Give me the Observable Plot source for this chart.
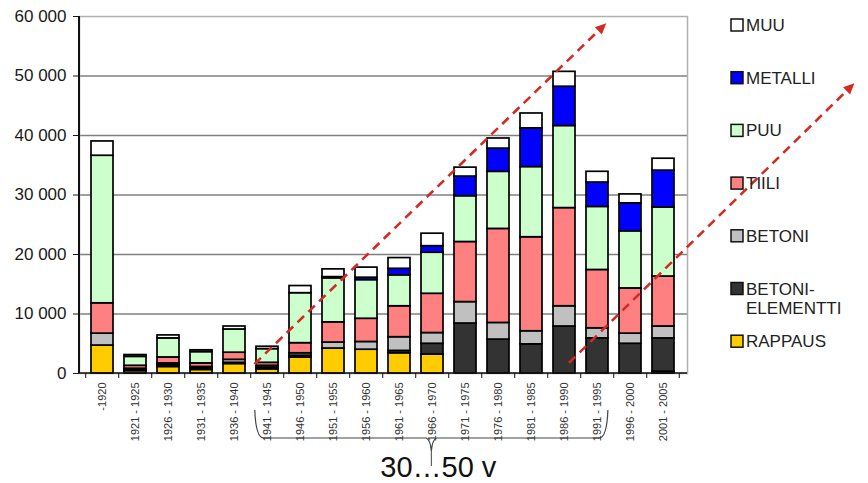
<!DOCTYPE html>
<html>
<head>
<meta charset="utf-8">
<script src="https://cdn.jsdelivr.net/npm/d3@7"></script>
<script src="https://cdn.jsdelivr.net/npm/@observablehq/plot@0.6"></script>
<style>
  body { margin: 0; background: #fff; }
  #chart svg { display: block; }
</style>
</head>
<body>
<div id="chart"></div>
<script>
// Construction periods (x categories)
const periods = [
  "-1920", "1921 - 1925", "1926 - 1930", "1931 - 1935", "1936 - 1940",
  "1941 - 1945", "1946 - 1950", "1951 - 1955", "1956 - 1960", "1961 - 1965",
  "1966 - 1970", "1971 - 1975", "1976 - 1980", "1981 - 1985", "1986 - 1990",
  "1991 - 1995", "1996 - 2000", "2001 - 2005"
];

// Facade materials, stacked bottom to top
const series = ["RAPPAUS", "BETONI-ELEMENTTI", "BETONI", "TIILI", "PUU", "METALLI", "MUU"];
const seriesColors = ["#ffcc00", "#333333", "#c0c0c0", "#ff8080", "#ccffcc", "#0000ff", "#ffffff"];

// Values per period for each material
const rappaus   = [4700,  400, 1100,  600, 1600,  700, 2700, 4200, 4000, 3400, 3200,     0,     0,     0,     0,     0,    0,   300];
const elementti = [   0,  200,  300,  300,  200,  300,  300,    0,    0,  400, 1800,  8400,  5700,  4900,  7900,  5900, 5000,  5600];
const betoni    = [2000,  200,  300,  200,  500,  300,  400, 1000, 1300, 2300, 1800,  3600,  2800,  2200,  3400,  1700, 1700,  2000];
const tiili     = [5100,  500, 1000,  600, 1200,  500, 1700, 3400, 3900, 5200, 6600, 10100, 15800, 15800, 16500,  9800, 7600,  8400];
const puu       = [24800, 1500, 3200, 1900, 3900, 2300, 8400, 7400, 6500, 5200, 6900,  7700,  9600, 11800, 13800, 10600, 9600, 11600];
const metalli   = [   0,    0,    0,    0,    0,    0,    0,  200,  400, 1100, 1100,  3300,  3900,  6500,  6600,  4100, 4700,  6200];
const muu       = [2400,  300,  500,  300,  500,  400, 1200, 1300, 1700, 1800, 2100,  1500,  1700,  2500,  2500,  1800, 1500,  2000];

// Y axis ticks
const yTicks = [0, 10000, 20000, 30000, 40000, 50000, 60000];

// Legend entries, top to bottom
const legendOrder = ["MUU", "METALLI", "PUU", "TIILI", "BETONI", "BETONI-ELEMENTTI", "RAPPAUS"];

// Trend arrows: [period, offset in bands from its centre, value]
const trendArrows = [
  {from: ["1941 - 1945", -0.38, 1500], to: ["1991 - 1995", 0.28, 58800]},
  {from: ["1986 - 1990", 0.15, 1700],  to: ["2001 - 2005", 5.8, 48700]}
];
// Brace below the period labels
const brace = {from: "1941 - 1945", to: "1991 - 1995", label: "30…50 v"};

const valuesBySeries = [rappaus, elementti, betoni, tiili, puu, metalli, muu];
const rows = [];
periods.forEach((p, i) => {
  series.forEach((s, j) => {
    const v = valuesBySeries[j][i];
    if (v > 0) rows.push({period: p, series: s, value: v});
  });
});

const fiFormat = d3.formatLocale({decimal: ",", thousands: " ", grouping: [3], currency: ["", ""]}).format(",");

const chart = Plot.plot({
  width: 868,
  height: 483,
  marginTop: 16,
  marginBottom: 110,
  marginLeft: 79,
  marginRight: 181,
  style: {fontFamily: "'Liberation Sans', Arial, sans-serif", background: "#fff", color: "#1a1a1a"},
  x: {domain: periods, paddingInner: 0.32, paddingOuter: 0.16},
  y: {domain: [0, 60000]},
  color: {domain: series, range: seriesColors},
  marks: [
    Plot.gridY(yTicks.slice(1, -1), {stroke: "#808080", strokeOpacity: 1, strokeWidth: 1.5}),
    Plot.frame({stroke: "#b0b0b0", strokeWidth: 1.5}),
    Plot.barY(rows, {x: "period", y: "value", fill: "series", order: series, stroke: "#000", strokeWidth: 1.7}),
    Plot.axisY({ticks: yTicks, tickFormat: fiFormat, fontSize: 17, tickSize: 6, tickPadding: 7, label: null}),
    Plot.axisX({tickRotate: -90, fontSize: 11, tickSize: 0, tickPadding: 9, label: null, fill: "#333"})
  ]
});

document.getElementById("chart").appendChild(chart);

// Annotations drawn with the chart's own scales
const sx = chart.scale("x");
const sy = chart.scale("y");
const svg = d3.select(chart);
const x0 = sx.range[0], x1 = sx.range[1];
const y0 = sy.apply(0), yTop = sy.apply(60000);
const bandCenter = (p, off = 0) => sx.apply(p) + sx.bandwidth / 2 + off * sx.step;
const halfGap = sx.step * 0.16;

const axes = svg.append("g").attr("stroke", "#111");
axes.append("line").attr("x1", x0).attr("x2", x0).attr("y1", yTop).attr("y2", y0).attr("stroke-width", 2);
axes.append("line").attr("x1", x0).attr("x2", x1).attr("y1", y0).attr("y2", y0).attr("stroke-width", 1.5);
periods.forEach((p, i) => {
  const bx = sx.apply(p) - halfGap;
  axes.append("line").attr("x1", bx).attr("x2", bx).attr("y1", y0).attr("y2", y0 + 5).attr("stroke-width", 1);
  if (i === periods.length - 1) {
    const ex = sx.apply(p) + sx.bandwidth + halfGap;
    axes.append("line").attr("x1", ex).attr("x2", ex).attr("y1", y0).attr("y2", y0 + 5).attr("stroke-width", 1);
  }
});

// Dashed red trend arrows
const red = "#d42a22";
const arrowLayer = svg.append("g");
trendArrows.forEach(a => {
  const ax1 = bandCenter(a.from[0], a.from[1]), ay1 = sy.apply(a.from[2]);
  const ax2 = bandCenter(a.to[0], a.to[1]), ay2 = sy.apply(a.to[2]);
  const ang = Math.atan2(ay2 - ay1, ax2 - ax1);
  const head = 11, wing = 5;
  const bxh = ax2 - head * Math.cos(ang), byh = ay2 - head * Math.sin(ang);
  arrowLayer.append("line")
    .attr("x1", ax1).attr("y1", ay1).attr("x2", bxh).attr("y2", byh)
    .attr("stroke", red).attr("stroke-width", 2.6).attr("stroke-dasharray", "9 6");
  arrowLayer.append("path")
    .attr("d", `M${ax2},${ay2}L${bxh - wing * Math.sin(ang)},${byh + wing * Math.cos(ang)}L${bxh + wing * Math.sin(ang)},${byh - wing * Math.cos(ang)}Z`)
    .attr("fill", red);
});

// Brace under the labels
const bl = bandCenter(brace.from, -0.37), br = bandCenter(brace.to, 0.33);
const bm = (bl + br) / 2;
const yb0 = y0 + 37, yb1 = y0 + 65, yb2 = y0 + 78;
svg.append("path")
  .attr("d", `M${bl},${yb0}Q${bl + 1},${yb1} ${bl + 9},${yb1}H${bm - 5}Q${bm - 1},${yb1 + 2} ${bm},${yb2}Q${bm + 1},${yb1 + 2} ${bm + 5},${yb1}H${br - 9}Q${br - 1},${yb1} ${br},${yb0}`)
  .attr("fill", "none").attr("stroke", "#444").attr("stroke-width", 1.2);
svg.append("line").attr("x1", bm).attr("x2", bm).attr("y1", yb2).attr("y2", y0 + 93)
  .attr("stroke", "#444").attr("stroke-width", 1);
svg.append("text")
  .attr("x", bm + 7).attr("y", y0 + 104)
  .attr("text-anchor", "middle")
  .attr("font-size", 29)
  .attr("fill", "#111")
  .text(brace.label);

// Legend on the right
const legend = svg.append("g").attr("font-size", 17).attr("fill", "#222").attr("text-anchor", "start");
const lx = x1 + 44;
legendOrder.forEach((name, i) => {
  const cy = 25 + i * 52.7;
  legend.append("rect")
    .attr("x", lx).attr("y", cy - 6).attr("width", 12).attr("height", 12)
    .attr("fill", seriesColors[series.indexOf(name)]).attr("stroke", "#111").attr("stroke-width", 1.5);
  const t = legend.append("text").attr("x", lx + 15).attr("y", cy + 6);
  if (name === "BETONI-ELEMENTTI") {
    t.append("tspan").text("BETONI-");
    t.append("tspan").attr("x", lx + 15).attr("dy", 19).text("ELEMENTTI");
  } else {
    t.text(name);
  }
});
</script>
</body>
</html>
